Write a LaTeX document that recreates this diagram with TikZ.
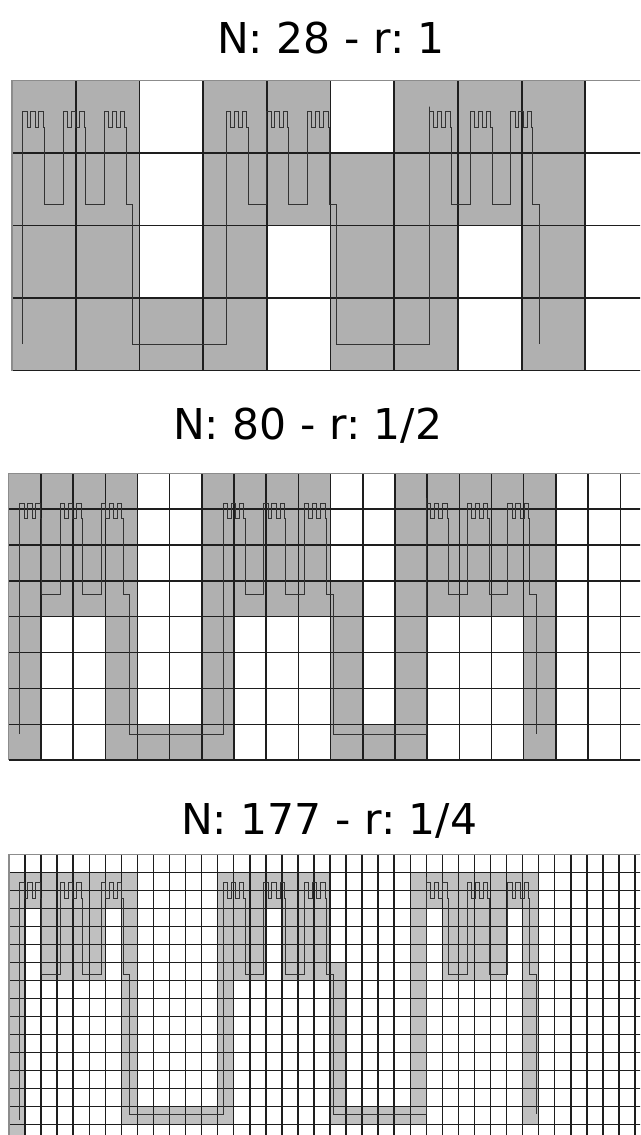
\documentclass[tikz,border=0pt]{standalone}
\usepackage{fontspec}
\setmainfont{DejaVu Sans}
\frenchspacing
\definecolor{fillA}{HTML}{B0B0B0}
\definecolor{fillC}{HTML}{C0C0C0}
\definecolor{gridc}{HTML}{1E1E1E}
\definecolor{curvec}{HTML}{333333}
\begin{document}
\begin{tikzpicture}[x=1pt,y=-1pt,
  title/.style={anchor=base west,inner sep=0pt,font=\fontsize{42.5}{50}\selectfont},
  gridline/.style={draw=gridc,line width=1.6pt},
  edgeline/.style={draw=black!45,line width=1.2pt},
  curve/.style={draw=curvec,line width=0.9pt,line join=miter},
  tinyc/.style={insert path={-- ++(\cts,0) -- ++(0,\hs) -- ++(\cbs,0) -- ++(0,-\hs) -- ++(\cts,0) -- ++(0,\hs) -- ++(\cbs,0) -- ++(0,-\hs) -- ++(\cts,0) -- ++(0,\hs) -- ++(\css,0)}},
  medc/.style={insert path={[tinyc] -- ++(0,\hmd) -- ++(\cb,0) -- ++(0,-\hm) [tinyc] -- ++(0,\hmd) -- ++(\cb,0) -- ++(0,-\hm) [tinyc] -- ++(0,\hmd) -- ++(\csm,0)}}
]
\useasboundingbox (0,0) rectangle (640,1135);
\fill[white] (0,0) rectangle (640,1135);

% horizontal self-similar measures
\def\cT{110.2}\def\cB{93.2}
\pgfmathsetmacro\ct{\cT/5}
\pgfmathsetmacro\cb{\cB/5}
\pgfmathsetmacro\cW{3*\cT+2*\cB}
\pgfmathsetmacro\csm{\cT-\cW/5}
\pgfmathsetmacro\cts{\ct/5}
\pgfmathsetmacro\cbs{\cb/5}
\pgfmathsetmacro\css{\ct-\cW/25}

\newcommand\setcurve[5]{% x0, Yt, Ys, Ym, Yb
  \def\cx{#1}\def\cyt{#2}%
  \pgfmathsetmacro\hs{#3-#2}%
  \pgfmathsetmacro\hm{#4-#2}%
  \pgfmathsetmacro\hmd{#4-#3}%
  \pgfmathsetmacro\hb{#5-#2}%
  \pgfmathsetmacro\hbd{#5-#4}}
\newcommand\drawcurve[1]{% start y
  \draw[curve] (\cx,#1) -- (\cx,\cyt) [medc] -- ++(0,\hbd) -- ++(\cB,0) -- ++(0,-\hb)
     [medc] -- ++(0,\hbd) -- ++(\cB,0) -- ++(0,-\hb) -- ++(0,-5) -- ++(0,5)
     [medc] -- ++(0,\hbd);}
\newcommand\setgrid[4]{\def\gx{#1}\def\gy{#2}\def\gw{#3}\def\gh{#4}}
\newcommand\gcell[3]{\fill[#3] ({\gx+\gw*#2},{\gy+\gh*#1}) rectangle ++(\gw,\gh);}
\newcommand\gridlines[3]{% nrows, ncols, width
  \foreach \i in {1,...,#2} \draw[gridline,line width=#3] ({\gx+\gw*\i},\gy) -- ++(0,{\gh*#1});
  \foreach \j in {1,...,#1} \draw[gridline,line width=#3] (\gx,{\gy+\gh*\j}) -- (645,{\gy+\gh*\j});
  \draw[edgeline] (645,\gy) -- (\gx,\gy) -- ++(0,{\gh*#1});}

\begin{scope}
\clip (0,0) rectangle (640,1135);

% ---------- panel 1 ----------
\setgrid{12}{80.5}{63.7}{72.5}
\foreach \c in {0,1,3,4,6,7,8} {\gcell{0}{\c}{fillA}}
\foreach \c in {0,1,3,4,5,6,7,8} {\gcell{1}{\c}{fillA}}
\foreach \c in {0,1,3,5,6,8} {\gcell{2}{\c}{fillA}}
\foreach \c in {0,1,2,3,5,6,8} {\gcell{3}{\c}{fillA}}
\gridlines{4}{10}{1.8pt}
\setcurve{22.6}{111.7}{127.8}{204.3}{344}
\drawcurve{344}

% ---------- panel 2 ----------
\setgrid{8.7}{473.3}{32.19}{35.85}
\foreach \r in {0,1,2} {\foreach \c in {0,1,2,3,6,7,8,9,12,13,14,15,16} {\gcell{\r}{\c}{fillA}}}
\foreach \c in {0,1,2,3,6,7,8,9,10,12,13,14,15,16} {\gcell{3}{\c}{fillA}}
\foreach \r in {4,5,6} {\foreach \c in {0,3,6,10,12,16} {\gcell{\r}{\c}{fillA}}}
\foreach \c in {0,3,4,5,6,10,11,12,16} {\gcell{7}{\c}{fillA}}
\gridlines{8}{20}{1.5pt}
\setcurve{19.6}{503}{518.3}{594.7}{734}
\drawcurve{734}

% ---------- panel 3 ----------
\setgrid{9}{854.7}{16.05}{18}
\foreach \r in {1,2} {\foreach \c in {0,...,7,13,14,...,19,25,26,...,32} {\gcell{\r}{\c}{fillC}}}
\foreach \r in {3,4,5} {\foreach \c in {0,2,3,4,5,7,13,14,15,17,18,19,25,27,28,29,30,32} {\gcell{\r}{\c}{fillC}}}
\foreach \c in {0,2,3,4,5,7,13,14,15,17,18,19,20,25,27,28,29,30,32} {\gcell{6}{\c}{fillC}}
\foreach \r in {7,...,13} {\foreach \c in {0,7,13,20,25,32} {\gcell{\r}{\c}{fillC}}}
\foreach \c in {0,7,8,9,10,11,12,13,20,21,22,23,24,25,32} {\gcell{14}{\c}{fillC}}
\gcell{15}{0}{fillC}
\gridlines{16}{40}{1.5pt}
\setcurve{19.6}{882.2}{898.2}{974}{1114}
\drawcurve{1120}
\end{scope}

% ---------- titles ----------
\node[title] (t1) at (217,53) {N: 28 - r: 1};
\node[title] (t2) at (173,439) {N: 80 - r: 1/2};
\node[title] (t3) at (181,834) {N: 177 - r: 1/4};
\end{tikzpicture}
\end{document}
